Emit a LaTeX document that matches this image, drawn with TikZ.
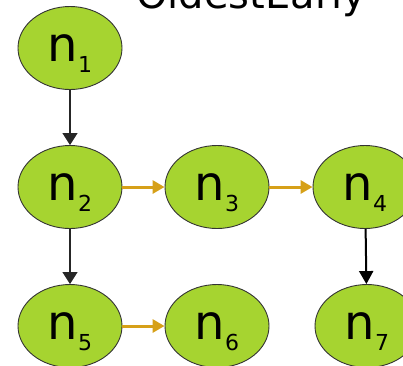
\documentclass[tikz,border=0pt]{standalone}
\usepackage{fontspec}
\setmainfont{DejaVu Sans}
\usetikzlibrary{arrows.meta,shapes.geometric}
\definecolor{nodegreen}{RGB}{166,212,48}
\definecolor{edgeorange}{RGB}{214,160,24}
\newcommand{\nlab}[1]{\fontsize{48}{48}\selectfont n\smash{\raisebox{-11pt}{\fontsize{22}{22}\selectfont #1}}}
\tikzset{
  vnode/.style={ellipse, fill=nodegreen, draw=black!80, line width=0.9pt,
    minimum width=104pt, minimum height=83pt, inner sep=0pt},
  blackedge/.style={draw=black!85, line width=1.1pt, -{Triangle[length=12pt,width=15pt]}},
  thickedge/.style={draw=black, line width=2pt, -{Triangle[length=13pt,width=14pt]}},
  orangeedge/.style={draw=edgeorange, line width=3pt, -{Triangle[length=12pt,width=13pt]}},
  titletext/.style={anchor=base west, inner sep=0pt, font=\fontsize{40}{40}\selectfont}
}
\begin{document}
\begin{tikzpicture}[x=1pt,y=-1pt]
\useasboundingbox (0,0) rectangle (403,365);
\clip (0,0) rectangle (403,365);
\node[titletext] (title) at (136,8) {OldestEarly};
\node[vnode] (n1) at (70,48) {\nlab{1}};
\node[vnode] (n2) at (70,187) {\nlab{2}};
\node[vnode] (n3) at (217,187) {\nlab{3}};
\node[vnode] (n4) at (365,187) {\nlab{4}};
\node[vnode] (n5) at (70,326) {\nlab{5}};
\node[vnode] (n6) at (217,326) {\nlab{6}};
\node[vnode] (n7) at (367,326) {\nlab{7}};
\draw[blackedge] (n1) -- (n2);
\draw[blackedge] (n2) -- (n5);
\draw[thickedge] (n4) -- (n7);
\draw[orangeedge] (n2) -- (n3);
\draw[orangeedge] (n3) -- (n4);
\draw[orangeedge] (n5) -- (n6);
\end{tikzpicture}
\end{document}
